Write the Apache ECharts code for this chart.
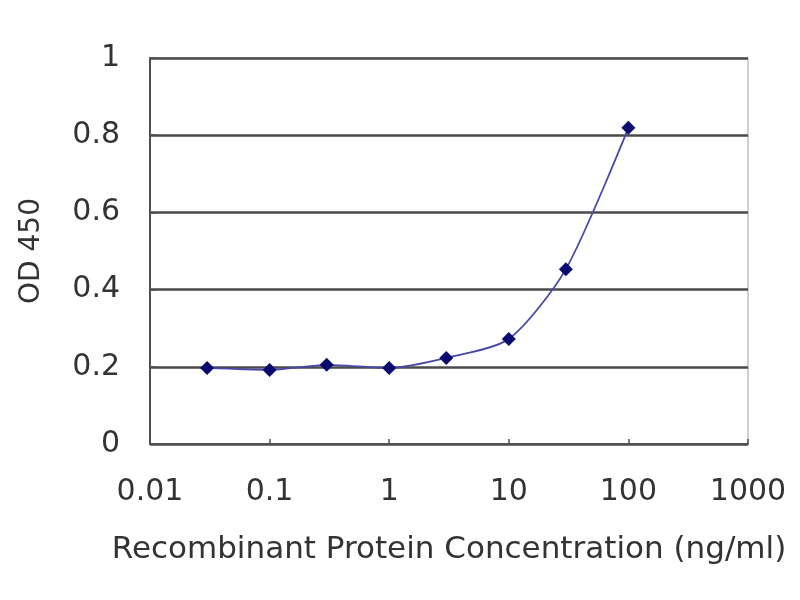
<!DOCTYPE html>
<html>
<head>
<meta charset="utf-8">
<script src="https://cdn.jsdelivr.net/npm/echarts@6/dist/echarts.min.js"></script>
<style>html,body{margin:0;padding:0;background:#fff;}#c{width:800px;height:600px;}</style>
</head>
<body>
<div id="c"></div>
<script>
var concentrations = [0.03, 0.1, 0.3, 1, 3, 10, 30, 100];
var od450 = [0.197, 0.192, 0.205, 0.197, 0.223, 0.272, 0.453, 0.819];
var xTicks = [0.01, 0.1, 1, 10, 100, 1000];
var yTicks = [0, 0.2, 0.4, 0.6, 0.8, 1];

var points = concentrations.map(function (c, i) { return [c, od450[i]]; });
var font = 'DejaVu Sans';
var chart = echarts.init(document.getElementById('c'));
chart.setOption({
  animation: false,
  backgroundColor: '#ffffff',
  grid: { left: 150, right: 52, top: 58, bottom: 156, show: true, borderColor: '#a0a0a0', borderWidth: 1, backgroundColor: 'transparent' },
  xAxis: {
    type: 'log', logBase: 10, min: xTicks[0], max: xTicks[xTicks.length - 1],
    name: 'Recombinant Protein Concentration (ng/ml)', nameLocation: 'middle', nameGap: 90,
    nameTextStyle: { fontFamily: font, fontSize: 31, color: '#333' },
    axisLine: { show: true, lineStyle: { color: '#505050', width: 2 } },
    axisTick: { show: true, inside: true, length: 5, lineStyle: { color: '#505050', width: 1.5 } },
    axisLabel: { fontFamily: font, fontSize: 30, color: '#333', margin: 33,
      formatter: function (v) { return String(+v.toPrecision(3)); } },
    splitLine: { show: false }
  },
  yAxis: {
    type: 'value', min: yTicks[0], max: yTicks[yTicks.length - 1], interval: 0.2,
    name: 'OD 450', nameLocation: 'middle', nameGap: 104,
    nameTextStyle: { fontFamily: font, fontSize: 28, color: '#333' },
    axisLine: { show: true, lineStyle: { color: '#505050', width: 2 } },
    axisTick: { show: true, inside: true, length: 6, lineStyle: { color: '#505050', width: 1.5 } },
    axisLabel: { fontFamily: font, fontSize: 30, color: '#333', margin: 30,
      formatter: function (v) { return String(+v.toFixed(1)); } },
    splitLine: { show: true, lineStyle: { color: '#4a4a4a', width: 2.5 } }
  },
  series: [{
    type: 'line',
    data: points,
    smooth: 0.25,
    symbol: 'diamond',
    symbolSize: 14,
    itemStyle: { color: '#0a0a70' },
    lineStyle: { color: '#4848a8', width: 1.8 },
    z: 5
  }]
});
</script>
</body>
</html>
